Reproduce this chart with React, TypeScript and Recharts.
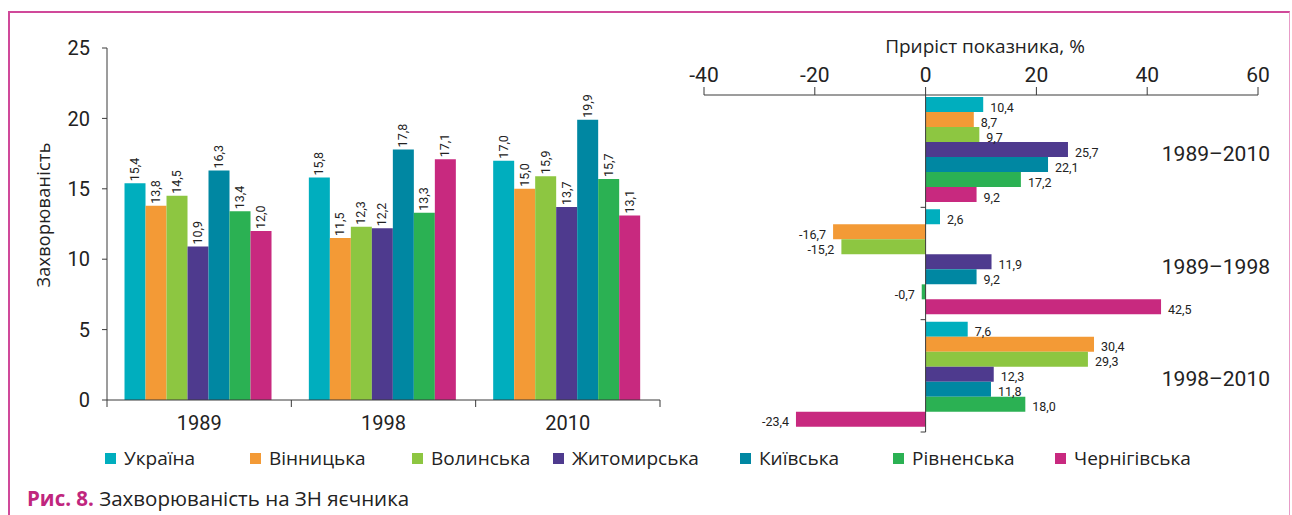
import React from 'react';
import { BarChart, Bar, XAxis, YAxis, LabelList, ReferenceLine } from 'recharts';

// ---------- data ----------
const years = ['1989', '1998', '2010'];
const ukraine = [15.4, 15.8, 17.0];
const vinnytska = [13.8, 11.5, 15.0];
const volynska = [14.5, 12.3, 15.9];
const zhytomyrska = [10.9, 12.2, 13.7];
const kyivska = [16.3, 17.8, 19.9];
const rivnenska = [13.4, 13.3, 15.7];
const chernihivska = [12.0, 17.1, 13.1];

const periods = ['1989–2010', '1989–1998', '1998–2010'];
const gUkraine = [10.4, 2.6, 7.6];
const gVinnytska = [8.7, -16.7, 30.4];
const gVolynska = [9.7, -15.2, 29.3];
const gZhytomyrska = [25.7, 11.9, 12.3];
const gKyivska = [22.1, 9.2, 11.8];
const gRivnenska = [17.2, -0.7, 18.0];
const gChernihivska = [9.2, 42.5, -23.4];

const seriesNames = ['Україна', 'Вінницька', 'Волинська', 'Житомирська', 'Київська', 'Рівненська', 'Чернігівська'];
const colors = ['#00AEBE', '#F39A36', '#8DC641', '#4E3A8E', '#0087A2', '#2BB153', '#C8297F'];

const leftTicks = [0, 5, 10, 15, 20, 25];
const rightTicks = [-40, -20, 0, 20, 40, 60];
const axisTitleRight = 'Приріст показника, %';
const axisTitleLeft = 'Захворюваність';
const captionBold = 'Рис. 8.';
const captionText = ' Захворюваність на ЗН яєчника';

const leftSeries = [ukraine, vinnytska, volynska, zhytomyrska, kyivska, rivnenska, chernihivska];
const rightSeries = [gUkraine, gVinnytska, gVolynska, gZhytomyrska, gKyivska, gRivnenska, gChernihivska];

const leftData = years.map((y, i) => {
  const row: any = { year: y };
  leftSeries.forEach((s, k) => (row['s' + k] = s[i]));
  return row;
});
const rightData = periods.map((p, i) => {
  const row: any = { period: p };
  rightSeries.forEach((s, k) => (row['s' + k] = s[i]));
  return row;
});

// ---------- layout ----------
const FONT = 'Roboto, "Noto Sans", sans-serif';
const TFONT = '"Open Sans", Roboto, sans-serif';
const TXT = '#222';
const AX = '#3a3a3a';

const L_W = 680, L_H = 448;
const L_M = { top: 48, right: 20, left: 47, bottom: 0 };
const L_YW = 60;
const L_XH = L_H - L_M.top - 352;
const L_PLOT_W = L_W - L_M.left - L_M.right - L_YW;
const L_BAND = L_PLOT_W / years.length;

const R_LEFT = 680, R_W = 612, R_H = 450;
const R_YW = 1;
const R_M = { top: 50, right: 34, left: 23, bottom: 18 };
const R_XH = 45;
const R_PLOT_W = R_W - R_M.left - R_M.right - R_YW;
const R_PLOT_H = R_H - R_M.top - R_M.bottom - R_XH;
const R_BAND = R_PLOT_H / periods.length;
const R_DOMAIN: [number, number] = [-40, 60];

const fmt = (v: number) => v.toFixed(1).replace('.', ',');

const legendLefts = [105, 250, 412, 553, 740, 893, 1055];

function LeftXTick(props: any) {
  const { x, y, payload, index } = props;
  const half = L_BAND / 2;
  return (
    <g>
      <line x1={x - half} x2={x - half} y1={y} y2={y + 7} stroke={AX} />
      {index === years.length - 1 && <line x1={x + half} x2={x + half} y1={y} y2={y + 7} stroke={AX} />}
      <text x={x} y={y + 30} textAnchor="middle" fontSize={20} fill={TXT} fontFamily={FONT}>
        {payload.value}
      </text>
    </g>
  );
}

function RightYTick(props: any) {
  const { y, payload } = props;
  const plotLeft = R_M.left + R_YW;
  const zeroX = plotLeft + ((0 - R_DOMAIN[0]) / (R_DOMAIN[1] - R_DOMAIN[0])) * R_PLOT_W;
  const rightX = plotLeft + R_PLOT_W;
  return (
    <g>
      <line x1={zeroX - 5} x2={zeroX} y1={y + R_BAND / 2} y2={y + R_BAND / 2} stroke={AX} />
      <text x={rightX + 12} y={y + 10} textAnchor="end" fontSize={21} fill={TXT} fontFamily={FONT}>
        {payload.value}
      </text>
    </g>
  );
}

const vLabel = (props: any) => {
  const { x, y, width, value } = props;
  const cx = x + width / 2 + 4;
  const ty = y - 2;
  return (
    <text x={cx} y={ty} transform={`rotate(-90 ${cx} ${ty})`} fontSize={12.5} fill={TXT} fontFamily={FONT} textAnchor="start">
      {fmt(value)}
    </text>
  );
};

const hLabel = (props: any) => {
  const { x, y, width, height, value } = props;
  const left = Math.min(x, x + width);
  const right = Math.max(x, x + width);
  const cy = y + height / 2 + 7;
  if (value >= 0) {
    return (
      <text x={right + 7} y={cy} fontSize={12.5} fill={TXT} fontFamily={FONT} textAnchor="start">
        {fmt(value)}
      </text>
    );
  }
  return (
    <text x={left - 7} y={cy} fontSize={12.5} fill={TXT} fontFamily={FONT} textAnchor="end">
      {fmt(value)}
    </text>
  );
};

export default function App() {
  return (
    <div style={{ position: 'absolute', left: 0, top: 0, width: 1292, height: 515, background: '#fff', fontFamily: FONT, overflow: 'hidden' }}>
      {/* frame */}
      <div style={{ position: 'absolute', left: 8, top: 11, width: 1279, height: 520, borderLeft: '2px solid #D0499A', borderTop: '2px solid #D0499A', borderRight: '1.5px solid #E89CC8' }} />

      {/* left chart */}
      <div style={{ position: 'absolute', left: 0, top: 0 }}>
        <BarChart width={L_W} height={L_H} data={leftData} margin={L_M} barCategoryGap="9.5%" barGap={0}>
          <XAxis dataKey="year" height={L_XH} tickLine={false} tickSize={0} tickMargin={0} axisLine={{ stroke: AX }} tick={<LeftXTick />} interval={0} />
          <YAxis width={L_YW} domain={[0, 25]} ticks={leftTicks} tickSize={5} tickMargin={12} axisLine={{ stroke: AX }} tickLine={{ stroke: AX }} tick={{ fontSize: 20, fill: TXT, fontFamily: FONT }} allowDecimals={false} />
          {seriesNames.map((n, k) => (
            <Bar key={n} dataKey={'s' + k} name={n} fill={colors[k]} isAnimationActive={false}>
              <LabelList dataKey={'s' + k} content={vLabel} />
            </Bar>
          ))}
        </BarChart>
      </div>

      {/* left axis title */}
      <div style={{ position: 'absolute', left: 43, top: 215, transform: 'translate(-50%, -50%) rotate(-90deg)', fontSize: 18, letterSpacing: 0.3, fontFamily: TFONT, color: TXT, whiteSpace: 'nowrap' }}>
        {axisTitleLeft}
      </div>

      {/* right chart */}
      <div style={{ position: 'absolute', left: R_LEFT, top: 0 }}>
        <BarChart layout="vertical" width={R_W} height={R_H} data={rightData} margin={R_M} barCategoryGap={2} barGap={0}>
          <XAxis type="number" orientation="top" domain={R_DOMAIN} ticks={rightTicks} height={R_XH} tickSize={8} tickMargin={5} axisLine={{ stroke: AX }} tickLine={{ stroke: AX }} tick={{ fontSize: 21, fill: TXT, fontFamily: FONT }} allowDataOverflow />
          <YAxis type="category" dataKey="period" width={R_YW} axisLine={false} tickLine={false} tickSize={0} tickMargin={0} tick={RightYTick} interval={0} />
          {seriesNames.map((n, k) => (
            <Bar key={n} dataKey={'s' + k} name={n} fill={colors[k]} isAnimationActive={false}>
              <LabelList dataKey={'s' + k} content={hLabel} />
            </Bar>
          ))}
          <ReferenceLine x={0} stroke={AX} strokeWidth={1} />
        </BarChart>
      </div>

      {/* right axis title */}
      <div style={{ position: 'absolute', left: 985, top: 46, transform: 'translate(-50%, -50%)', fontSize: 19, fontFamily: TFONT, color: TXT, whiteSpace: 'nowrap' }}>
        {axisTitleRight}
      </div>

      {/* legend */}
      {seriesNames.map((n, k) => (
        <div key={n} style={{ position: 'absolute', left: legendLefts[k], top: 446, height: 24, display: 'flex', alignItems: 'center', whiteSpace: 'nowrap' }}>
          <span style={{ display: 'inline-block', width: 11, height: 11, background: colors[k], marginRight: 8 }} />
          <span style={{ fontSize: 19, fontFamily: TFONT, color: TXT }}>{n}</span>
        </div>
      ))}

      {/* caption */}
      <div style={{ position: 'absolute', left: 27, top: 484, fontSize: 20.5, fontFamily: TFONT, color: TXT, whiteSpace: 'nowrap' }}>
        <span style={{ color: '#C0267E', fontWeight: 700 }}>{captionBold}</span>
        {captionText}
      </div>
    </div>
  );
}
